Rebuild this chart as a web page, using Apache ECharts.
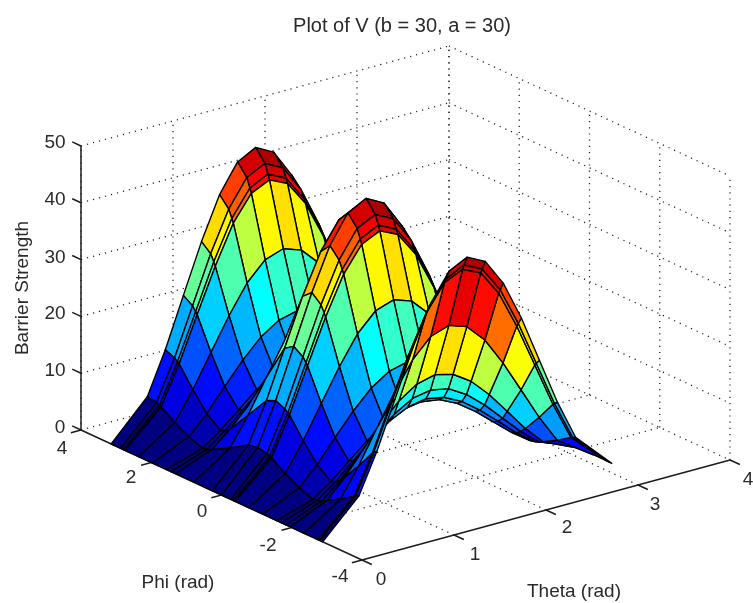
<!DOCTYPE html>
<html>
<head>
<meta charset="utf-8">
<style>html,body{margin:0;padding:0;background:#fff}#c{width:753px;height:603px}</style>
<script src="https://cdn.jsdelivr.net/npm/echarts@6/dist/echarts.min.js"></script>
</head>
<body>
<div id="c"></div>
<script>
// ---- data ----
const thetaNodes = [0,0.393,0.589,0.785,0.982,1.178,1.374,1.571,1.767,1.963,2.160,2.356,2.553,2.749,3.142];
const phiDegrees = [-165,-160,-157.5,-135,-112.5,-105,-97.5,-90,-67.5,-45,-22.5,-20,-15,0,15,45,75,82.5,90,112.5,135,157.5,160,165,180];
const z00 = [0,0,0,0,0,0,0,0,0,0,0,0,0,0,0,0,0,0,0,0,0,0,0,0,0];
const z02 = [6.3,6.1,5.9,4.3,2.9,2.5,2.2,2.0,2.9,4.3,5.9,6.1,6.3,6.6,6.3,4.3,2.5,2.2,2.0,2.9,4.3,5.9,6.1,6.3,6.6];
const z03 = [13.3,12.9,12.6,9.2,6.1,5.2,4.6,4.3,6.1,9.2,12.6,12.9,13.3,14.0,13.3,9.2,5.2,4.6,4.3,6.1,9.2,12.6,12.9,13.3,14.0];
const z04 = [21.6,20.8,20.4,14.9,10.0,8.4,7.5,7.0,10.0,14.9,20.4,20.8,21.6,22.7,21.6,14.9,8.4,7.5,7.0,10.0,14.9,20.4,20.8,21.6,22.7];
const z05 = [29.9,28.7,28.1,20.5,13.8,11.6,10.3,9.7,13.8,20.5,28.1,28.7,29.9,31.3,29.9,20.5,11.6,10.3,9.7,13.8,20.5,28.1,28.7,29.9,31.3];
const z06 = [36.9,35.5,34.8,25.4,17.0,14.3,12.7,12.0,17.0,25.4,34.8,35.5,36.9,38.7,36.9,25.4,14.3,12.7,12.0,17.0,25.4,34.8,35.5,36.9,38.7];
const z07 = [41.6,40.0,39.2,28.6,19.1,16.2,14.3,13.5,19.1,28.6,39.2,40.0,41.6,43.6,41.6,28.6,16.2,14.3,13.5,19.1,28.6,39.2,40.0,41.6,43.6];
const z08 = [43.2,41.6,40.7,29.7,19.9,16.8,14.9,14.0,19.9,29.7,40.7,41.6,43.2,45.3,43.2,29.7,16.8,14.9,14.0,19.9,29.7,40.7,41.6,43.2,45.3];
const z09 = [41.6,40.0,39.2,28.6,19.1,16.2,14.3,13.5,19.1,28.6,39.2,40.0,41.6,43.6,41.6,28.6,16.2,14.3,13.5,19.1,28.6,39.2,40.0,41.6,43.6];
const z10 = [36.9,35.5,34.8,25.4,17.0,14.3,12.7,12.0,17.0,25.4,34.8,35.5,36.9,38.7,36.9,25.4,14.3,12.7,12.0,17.0,25.4,34.8,35.5,36.9,38.7];
const z11 = [29.9,28.7,28.1,20.5,13.8,11.6,10.3,9.7,13.8,20.5,28.1,28.7,29.9,31.3,29.9,20.5,11.6,10.3,9.7,13.8,20.5,28.1,28.7,29.9,31.3];
const z12 = [21.6,20.8,20.4,14.9,10.0,8.4,7.5,7.0,10.0,14.9,20.4,20.8,21.6,22.7,21.6,14.9,8.4,7.5,7.0,10.0,14.9,20.4,20.8,21.6,22.7];
const z13 = [13.3,12.9,12.6,9.2,6.1,5.2,4.6,4.3,6.1,9.2,12.6,12.9,13.3,14.0,13.3,9.2,5.2,4.6,4.3,6.1,9.2,12.6,12.9,13.3,14.0];
const z14 = [6.3,6.1,5.9,4.3,2.9,2.5,2.2,2.0,2.9,4.3,5.9,6.1,6.3,6.6,6.3,4.3,2.5,2.2,2.0,2.9,4.3,5.9,6.1,6.3,6.6];
const z16 = [0,0,0,0,0,0,0,0,0,0,0,0,0,0,0,0,0,0,0,0,0,0,0,0,0];
const zRows = [z00,z02,z03,z04,z05,z06,z07,z08,z09,z10,z11,z12,z13,z14,z16];
const thetaTicks = [0,1,2,3,4];
const phiTicks = [-4,-2,0,2,4];
const zTicks = [0,10,20,30,40,50];
const titleText = 'Plot of V (b = 30, a = 30)';
const thetaName = 'Theta (rad)';
const phiName = 'Phi (rad)';
const zName = 'Barrier Strength';
const jetStops = ['#000080','#0000ff','#0080ff','#00ffff','#80ff80','#ffff00','#ff8000','#ff0000','#800000'];
const colorMax = 45.3;

// ---- orthographic view of the 3-D box onto the hidden 2-D view axes ----
function project(theta, phi, z) {
  return [81 + (4 - phi) * 35.125 + theta * 92,
          430 + (4 - phi) * 16.25 - theta * 25 - z * 5.68];
}
const phiNodes = phiDegrees.map(d => d * Math.PI / 180);

// facets ordered far to near
const faces = [];
for (let i = thetaNodes.length - 2; i >= 0; i--) {
  for (let j = phiNodes.length - 2; j >= 0; j--) {
    const p = project(thetaNodes[i], phiNodes[j], zRows[i][j]);
    faces.push([p[0], p[1], zRows[i][j], i, j]);
  }
}

// segments: [theta1,phi1,z1,theta2,phi2,z2]
const gridSegs = [];
const axisSegs = [];
zTicks.forEach(z => {
  gridSegs.push([0,4,z,4,4,z]);
  gridSegs.push([4,4,z,4,-4,z]);
  axisSegs.push([0,4,z,0,4.25,z]);
});
thetaTicks.forEach(t => {
  gridSegs.push([t,4,0,t,4,50]);
  if (t > 0 && t < 4) gridSegs.push([t,-4,0,t,4,0]);
  axisSegs.push([t,-4,0,t,-4.28,0]);
});
phiTicks.forEach(p => {
  gridSegs.push([4,p,0,4,p,50]);
  if (p > -4 && p < 4) gridSegs.push([0,p,0,4,p,0]);
  axisSegs.push([0,p,0,-0.11,p,0]);
});
axisSegs.push([0,4,0,0,4,50]);
axisSegs.push([0,4,0,0,-4,0]);
axisSegs.push([0,-4,0,4,-4,0]);

function segRenderer(style) {
  return function (params, api) {
    const a = project(api.value(0), api.value(1), api.value(2));
    const b = project(api.value(3), api.value(4), api.value(5));
    return {type: 'line',
      shape: {x1: api.coord(a)[0], y1: api.coord(a)[1], x2: api.coord(b)[0], y2: api.coord(b)[1]},
      style: style};
  };
}
const fontFamily = '"Liberation Sans", Arial, sans-serif';
const textColor = '#2a2a2a';
function labelSeries(rows) {
  return {
    type: 'custom', coordinateSystem: 'cartesian2d', silent: true, animation: false, z: 5,
    clip: false,
    data: rows,
    encode: {x: 0, y: 1},
    renderItem: function (params, api) {
      const row = rows[params.dataIndex];
      const c = api.coord([row[0], row[1]]);
      return {type: 'text', x: c[0], y: c[1], rotation: row[3] || 0,
        style: {text: row[2], font: '19px ' + fontFamily, fill: textColor,
                align: 'center', verticalAlign: 'middle'}};
    }
  };
}
const tickLabelPos = {
  z: [[55,428],[55,371],[55,314],[55,258],[55,200],[55,143]],
  phi: [[340,577],[268,546],[202,512],[131,478],[62,449]],
  theta: [[381,580],[475,555],[567,528],[655,505],[748,480]]
};
const labelRows = [];
zTicks.forEach((v,i) => labelRows.push([tickLabelPos.z[i][0] + (v === 0 ? 5 : 0), tickLabelPos.z[i][1], String(v)]));
phiTicks.forEach((v,i) => labelRows.push([tickLabelPos.phi[i][0], tickLabelPos.phi[i][1], String(v)]));
thetaTicks.forEach((v,i) => labelRows.push([tickLabelPos.theta[i][0], tickLabelPos.theta[i][1], String(v)]));
labelRows.push([178,583,phiName]);
labelRows.push([574,592,thetaName]);
labelRows.push([23,288,zName,Math.PI/2]);

const chart = echarts.init(document.getElementById('c'), null, {renderer: 'canvas', width: 753, height: 603});
chart.setOption({
  animation: false,
  backgroundColor: '#ffffff',
  title: {text: titleText, left: 397, top: 11, textAlign: 'center',
          textStyle: {fontFamily: fontFamily, fontSize: 20, fontWeight: 'normal', color: textColor}},
  grid: {left: 0, top: 0, width: 753, height: 603, show: false},
  xAxis: {type: 'value', min: 0, max: 753, show: false},
  yAxis: {type: 'value', min: 0, max: 603, inverse: true, show: false},
  visualMap: {show: false, type: 'continuous', seriesIndex: 2, dimension: 2, min: 0, max: colorMax,
              inRange: {color: jetStops}},
  series: [
    {type: 'custom', coordinateSystem: 'cartesian2d', silent: true, z: 1, clip: false,
     data: gridSegs, encode: {x: 0, y: 1},
     renderItem: segRenderer({stroke: '#222222', lineWidth: 1.25, lineDash: [1.2, 5]})},
    {type: 'custom', coordinateSystem: 'cartesian2d', silent: true, z: 2, clip: false,
     data: axisSegs, encode: {x: 0, y: 1},
     renderItem: segRenderer({stroke: '#1c1c1c', lineWidth: 1.5})},
    {type: 'custom', coordinateSystem: 'cartesian2d', silent: true, z: 3, clip: false, progressive: 0,
     data: faces, encode: {x: 0, y: 1},
     renderItem: function (params, api) {
       const i = api.value(3), j = api.value(4);
       const pts = [[i,j],[i+1,j],[i+1,j+1],[i,j+1]].map(q =>
         api.coord(project(thetaNodes[q[0]], phiNodes[q[1]], zRows[q[0]][q[1]])));
       return {type: 'polygon', shape: {points: pts},
         style: {fill: api.visual('color'), stroke: '#000000', lineWidth: 1.4, lineJoin: 'round'}};
     }},
    labelSeries(labelRows)
  ]
});
</script>
</body>
</html>
